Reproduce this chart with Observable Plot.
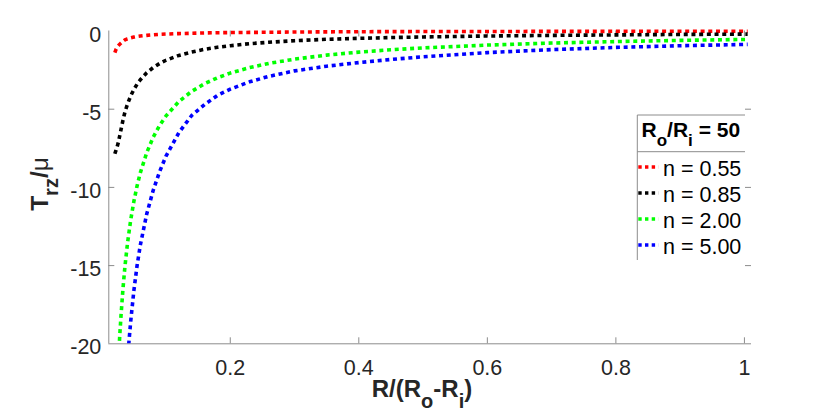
<!DOCTYPE html>
<html><head><meta charset="utf-8">
<script src="https://cdn.jsdelivr.net/npm/d3@7"></script>
<script src="https://cdn.jsdelivr.net/npm/@observablehq/plot@0.6"></script>
<style>body{margin:0;background:#fff}#chart{width:830px;height:412px}</style>
</head><body><div id="chart"></div>
<script>
// ---- data ----
const xs = [0.0204, 0.022, 0.024, 0.026, 0.028, 0.03, 0.033, 0.036, 0.04, 0.045, 0.05, 0.055, 0.06, 0.07, 0.08, 0.09, 0.1, 0.12, 0.14, 0.16, 0.18, 0.2, 0.23, 0.26, 0.3, 0.35, 0.4, 0.45, 0.5, 0.6, 0.7, 0.8, 0.9, 1.0, 1.005];
const tauN055 = [-1.38, -1.2, -1.03, -0.93, -0.85, -0.77, -0.66, -0.57, -0.50, -0.44, -0.39, -0.355, -0.325, -0.28, -0.245, -0.215, -0.195, -0.165, -0.145, -0.125, -0.11, -0.10, -0.09, -0.08, -0.065, -0.055, -0.045, -0.04, -0.035, -0.03, -0.025, -0.02, -0.018, -0.015, -0.015];
const tauN085 = [-7.85, -7.65, -7.4, -7.1, -6.7, -6.3, -5.72, -5.2, -4.68, -4.16, -3.74, -3.40, -3.12, -2.67, -2.34, -2.08, -1.87, -1.56, -1.34, -1.17, -1.04, -0.94, -0.81, -0.72, -0.62, -0.53, -0.47, -0.42, -0.38, -0.32, -0.28, -0.25, -0.22, -0.2, -0.2];
const tauN200 = [-26.7, -24.8, -22.7, -21.0, -19.5, -18.2, -16.5, -15.1, -13.6, -12.1, -10.9, -9.9, -9.07, -7.78, -6.80, -6.04, -5.43, -4.51, -3.86, -3.37, -2.99, -2.69, -2.34, -2.07, -1.80, -1.54, -1.35, -1.20, -1.08, -0.90, -0.77, -0.675, -0.60, -0.54, -0.537];
const tauN500 = [-41.2, -38.2, -35.0, -32.3, -30.0, -28.0, -25.5, -23.3, -21.0, -18.6, -16.6, -15.0, -13.7, -11.7, -10.2, -9.0, -8.0, -6.5, -5.4, -4.7, -4.12, -3.72, -3.25, -2.90, -2.55, -2.25, -2.02, -1.82, -1.65, -1.38, -1.19, -1.05, -0.94, -0.86, -0.855];
const seriesNames = ["n = 0.55", "n = 0.85", "n = 2.00", "n = 5.00"];
const seriesColors = ["#ff0000", "#000000", "#00ff00", "#0000ff"];
const seriesValues = [tauN055, tauN085, tauN200, tauN500];
const xTicks = [0.2, 0.4, 0.6, 0.8, 1];
const xTickLabels = ["0.2", "0.4", "0.6", "0.8", "1"];
const yTicks = [0, -5, -10, -15, -20];
const yTickLabels = ["0", "-5", "-10", "-15", "-20"];
const xDomain = [0.011, 1.011];
const yDomain = [-20, 0];

// ---- build table ----
const rows = seriesNames.flatMap((s, k) => xs.map((x, i) => ({series: s, x, y: seriesValues[k][i]})));

const FONT = "'Liberation Sans', Arial, Helvetica, sans-serif";
const axisGray = "#8c8c8c";
const textGray = "#262626";
const dash = "4,3.7";

const lineMarks = seriesNames.map((s, k) => Plot.line(rows.filter(d => d.series === s), {
  x: "x", y: "y", stroke: seriesColors[k], strokeWidth: 3.6, strokeDasharray: dash,
  strokeLinecap: "butt", clip: k >= 2
}));

const plot = Plot.plot({
  width: 830, height: 412,
  marginLeft: 108.3, marginRight: 79, marginTop: 30.5, marginBottom: 68.7,
  x: {domain: xDomain, axis: null},
  y: {domain: yDomain, axis: null},
  style: {fontFamily: FONT, background: "white", overflow: "visible"},
  marks: [
    Plot.ruleX([xDomain[0]], {stroke: axisGray}),
    Plot.ruleY([yDomain[0]], {stroke: axisGray}),
    Plot.ruleX(xTicks, {x: d => d, y1: yDomain[0], y2: yDomain[0], insetTop: -6, stroke: axisGray}),
    Plot.ruleX(xTicks, {x: d => d, y1: yDomain[1], y2: yDomain[1], insetBottom: -6, stroke: axisGray}),
    Plot.ruleY(yTicks.slice(1, -1), {y: d => d, x1: xDomain[0], x2: xDomain[0], insetRight: -6, stroke: axisGray}),
    Plot.ruleY(yTicks.slice(1, -1), {y: d => d, x1: xDomain[1], x2: xDomain[1], insetLeft: -6, stroke: axisGray}),
    Plot.text(xTicks, {x: d => d, y: yDomain[0], text: (d, i) => xTickLabels[i], lineAnchor: "bottom", dy: 30.7, fontSize: 21.5, fill: textGray}),
    Plot.text(yTicks, {x: xDomain[0], y: d => d, text: (d, i) => yTickLabels[i], textAnchor: "end", lineAnchor: "bottom", dx: -7.5, dy: 10.5, fontSize: 21.5, fill: textGray}),
    ...lineMarks
  ]
});

const svg = d3.select(plot);

// x label: R/(R_o-R_i)
const xl = svg.append("text").attr("x", 422).attr("y", 397.3).attr("text-anchor", "middle")
  .attr("font-family", FONT).attr("font-weight", "bold").attr("font-size", 24).attr("fill", textGray);
xl.append("tspan").text("R/(R");
xl.append("tspan").attr("dy", 11).attr("font-size", 20).text("o");
xl.append("tspan").attr("dy", -11).text("-R");
xl.append("tspan").attr("dy", 11).attr("font-size", 20).text("i");
xl.append("tspan").attr("dy", -11).text(")");

// y label: T_rz/μ
const yl = svg.append("text").attr("transform", "translate(48,184) rotate(-90)").attr("text-anchor", "middle")
  .attr("font-family", FONT).attr("font-weight", "bold").attr("font-size", 24.5).attr("fill", textGray);
yl.append("tspan").text("T");
yl.append("tspan").attr("dy", 10).attr("font-size", 20).text("rz");
yl.append("tspan").attr("dy", -10).text("/");
yl.append("tspan").attr("font-weight", "normal").text("μ");

// legend
const lg = svg.append("g").attr("font-family", FONT).attr("text-anchor", "start");
const L = {left: 637.3, top: 115, right: 745, sep: 151.7, bottom: 260};
lg.append("line").attr("x1", L.left).attr("x2", L.left).attr("y1", L.top).attr("y2", L.bottom).attr("stroke", axisGray);
lg.append("line").attr("x1", L.left).attr("x2", L.right).attr("y1", L.top).attr("y2", L.top).attr("stroke", axisGray);
lg.append("line").attr("x1", L.left).attr("x2", L.right).attr("y1", L.sep).attr("y2", L.sep).attr("stroke", axisGray);
const hd = lg.append("text").attr("x", 641.5).attr("y", 137).attr("text-anchor", "start").attr("font-weight", "bold").attr("font-size", 21).attr("fill", "#000");
hd.append("tspan").text("R");
hd.append("tspan").attr("dy", 9).attr("font-size", 17).text("o");
hd.append("tspan").attr("dy", -9).text("/R");
hd.append("tspan").attr("dy", 9).attr("font-size", 17).text("i");
hd.append("tspan").attr("dy", -9).text(" = 50");
seriesNames.forEach((s, k) => {
  const base = 175.5 + k * 26;
  lg.append("line").attr("x1", 638.3).attr("x2", 658.5).attr("y1", base - 8.5).attr("y2", base - 8.5)
    .attr("stroke", seriesColors[k]).attr("stroke-width", 3.3).attr("stroke-dasharray", "3.4,3.3");
  lg.append("text").attr("x", 663).attr("y", base).attr("text-anchor", "start").attr("font-size", 21.5).attr("fill", "#000").text(s);
});

document.getElementById("chart").appendChild(plot);
</script>
</body></html>
